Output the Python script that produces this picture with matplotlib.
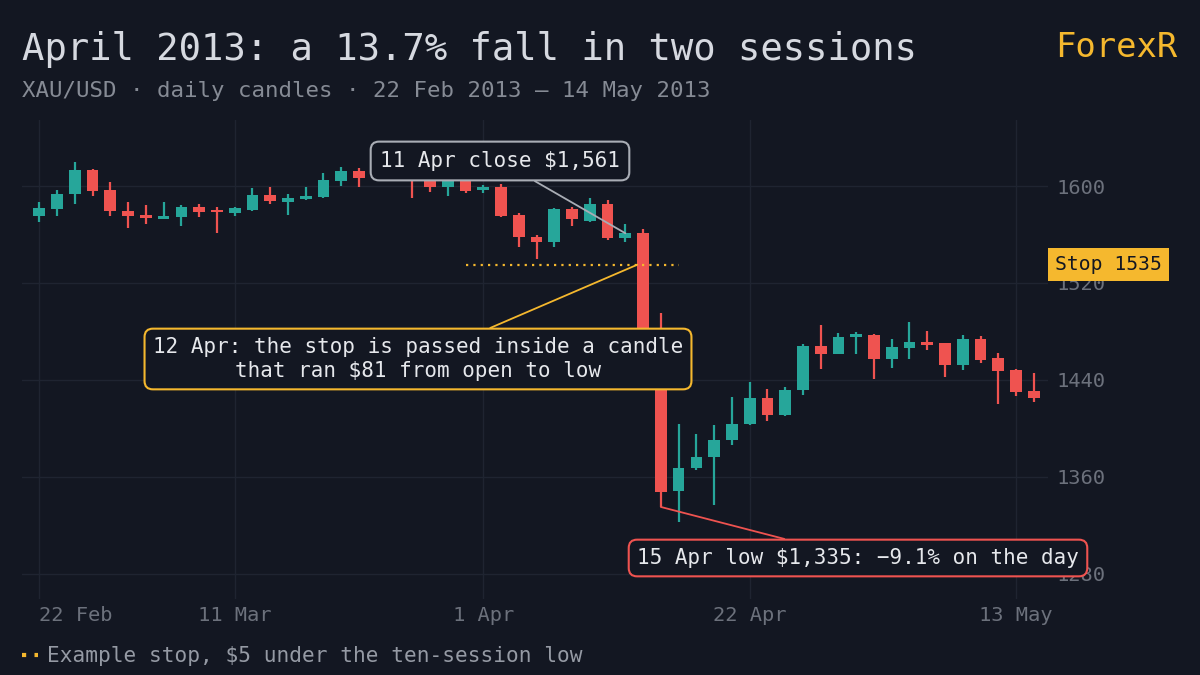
import matplotlib
matplotlib.use("Agg")
import matplotlib.pyplot as plt
from matplotlib.lines import Line2D
from matplotlib.transforms import blended_transform_factory

# ---------------- data ----------------
opens = [1575, 1581, 1593, 1613.5, 1596.5, 1579.5, 1576, 1573, 1574.5, 1583,
         1579.5, 1578, 1580.5, 1592.5, 1587, 1589.5, 1591, 1604.5, 1612, 1606.5,
         1612, 1611, 1606, 1599.4, 1604, 1596.7, 1599.4, 1576.1, 1557.9, 1553.8,
         1581, 1571.4, 1585.1, 1557.4, 1561, 1478, 1347.9, 1367.1, 1376.2, 1390.5,
         1403.7, 1425.1, 1410.6, 1431.7, 1467.5, 1461.1, 1475.7, 1477.3, 1457.3, 1466.6,
         1470.8, 1470, 1452.5, 1473.8, 1457.8, 1448.2, 1430.8]
highs = [1587, 1597, 1620, 1614, 1603, 1587, 1584, 1586.5, 1584.5, 1585,
         1583, 1582.5, 1598, 1599.5, 1593.5, 1599, 1611, 1615.5, 1614.5, 1616,
         1615, 1614, 1609, 1609, 1607, 1600.8, 1601.5, 1577.5, 1559.3, 1581.6,
         1582.9, 1590.1, 1588.2, 1568.4, 1564.5, 1495, 1403.7, 1395.2, 1402.4, 1425.9,
         1438.3, 1432.6, 1433.8, 1469.7, 1485.3, 1478.4, 1479.5, 1478.1, 1473.5, 1487.8,
         1480.1, 1470.5, 1476.8, 1476.3, 1461.9, 1448.5, 1446]
lows = [1570, 1575, 1585, 1592, 1575, 1565, 1569, 1572.5, 1567, 1574.5,
        1561, 1575.5, 1579.5, 1585.5, 1576, 1588.5, 1590.5, 1600, 1599.5, 1604.5,
        1605, 1590, 1594.8, 1591.7, 1593.9, 1594.5, 1574.1, 1549.9, 1540, 1549.4,
        1567.3, 1570.3, 1555.4, 1553.8, 1480, 1335, 1322.3, 1365.7, 1336.9, 1386.4,
        1403, 1405.8, 1410, 1427.7, 1448.8, 1461, 1461.1, 1440.5, 1449.6, 1457,
        1464.7, 1441.9, 1448.4, 1453.7, 1420.1, 1426.2, 1422]
closes = [1582, 1593, 1613.5, 1596, 1579, 1575.5, 1573.5, 1575, 1583, 1578.5,
          1578.5, 1581.5, 1592.5, 1587.5, 1590, 1592, 1605, 1612, 1606.5, 1612,
          1607, 1605, 1599.4, 1606, 1596.1, 1599.1, 1575.5, 1557.6, 1554.1, 1581,
          1573, 1585.1, 1556.8, 1561, 1482, 1347, 1367.1, 1376.2, 1390.5, 1403.7,
          1425.1, 1410.6, 1431.7, 1468, 1461.1, 1475.4, 1477.6, 1457.3, 1466.9, 1470.8,
          1469.1, 1452.5, 1473.8, 1456.4, 1447.6, 1430.3, 1425.3]

tick_idx = [0, 11, 25, 40, 55]
tick_labels = ["22 Feb", "11 Mar", "1 Apr", "22 Apr", "13 May"]
price_ticks = [1280, 1360, 1440, 1520, 1600]

stop_price = 1535
stop_from, stop_to = 24, 36
idx_11apr, idx_12apr, idx_15apr = 33, 34, 35

# ---------------- style ----------------
BG = "#131722"
GRID = "#1f2431"
UP = "#26a69a"
DOWN = "#ef5350"
GOLD = "#f5b82e"
FONT = "DejaVu Sans Mono"
plt.rcParams["font.family"] = [FONT, "DejaVu Sans"]

W, H = 1200, 675
fig = plt.figure(figsize=(12, 6.75), dpi=100, facecolor=BG)

def fx(px):
    return px / W

def fy(py):
    return 1 - py / H

ax = fig.add_axes([fx(22), fy(599), fx(1048 - 22), (599 - 120) / H])
ax.set_facecolor(BG)

n = len(opens)
xs = list(range(n))
body_w = 0.66
for i in xs:
    o, h, l, c = opens[i], highs[i], lows[i], closes[i]
    col = UP if c >= o else DOWN
    ax.vlines(i, l, h, color=col, lw=1.6, zorder=3)
    bottom = min(o, c)
    height = max(abs(c - o), 1.3)
    ax.bar(i, height, bottom=bottom, width=body_w, color=col, lw=0, zorder=3)

ax.set_xlim(-0.974, 56.8)
ax.set_ylim(1259, 1654.5)
ax.set_xticks(tick_idx)
ax.set_xticklabels(tick_labels)
ax.set_yticks(price_ticks)
ax.yaxis.tick_right()
ax.tick_params(axis="both", length=0, colors="#6c717c", labelsize=14.7)
ax.tick_params(axis="x", pad=5)
ax.tick_params(axis="y", pad=6)
ax.xaxis.get_majorticklabels()[0].set_horizontalalignment("left")
ax.grid(True, color=GRID, lw=1.0, zorder=0)
ax.set_axisbelow(True)
for s in ax.spines.values():
    s.set_visible(False)

# stop line
ax.plot([stop_from, stop_to], [stop_price, stop_price], color=GOLD, lw=1.6,
        ls=(0, (1, 2.3)), dash_capstyle="butt", zorder=4)

# stop label on the price axis
tr = blended_transform_factory(ax.transAxes, ax.transData)
ax.text(1.0 + 7 / 1026, stop_price, "Stop 1535", transform=tr, ha="left", va="center",
        fontsize=14.1, color="#131722", clip_on=False, zorder=20,
        bbox=dict(boxstyle="square,pad=0.35", fc=GOLD, ec="none"))

TXT = "#e6e8ec"
# annotation: 11 Apr close
ax.annotate(f"11 Apr close ${closes[idx_11apr]:,.0f}",
            xy=(idx_11apr, closes[idx_11apr]), xycoords="data",
            xytext=(500, H - 161), textcoords="figure pixels",
            ha="center", va="center", fontsize=15, color=TXT, zorder=15,
            bbox=dict(boxstyle="round,pad=0.45,rounding_size=0.4", fc=BG, ec="#a9adb5", lw=1.5),
            arrowprops=dict(arrowstyle="-", color="#a9adb5", lw=1.3, shrinkA=0, shrinkB=0))

# annotation: 12 Apr
ax.annotate("12 Apr: the stop is passed inside a candle\nthat ran $81 from open to low",
            xy=(idx_12apr - body_w / 2, stop_price), xycoords="data",
            xytext=(418, H - 359), textcoords="figure pixels",
            ha="center", va="center", fontsize=15, color=TXT, zorder=15,
            multialignment="center", linespacing=1.25,
            bbox=dict(boxstyle="round,pad=0.4,rounding_size=0.4", fc=BG, ec=GOLD, lw=1.5),
            arrowprops=dict(arrowstyle="-", color=GOLD, lw=1.3, shrinkA=0, shrinkB=0))

# annotation: 15 Apr low
ax.annotate("15 Apr low $1,335: \u22129.1% on the day",
            xy=(idx_15apr, lows[idx_15apr]), xycoords="data",
            xytext=(858, H - 558), textcoords="figure pixels",
            ha="center", va="center", fontsize=15, color=TXT, zorder=15,
            annotation_clip=False,
            bbox=dict(boxstyle="round,pad=0.4,rounding_size=0.4", fc=BG, ec=DOWN, lw=1.5),
            arrowprops=dict(arrowstyle="-", color=DOWN, lw=1.3, shrinkA=0, shrinkB=0))

# titles
fig.text(fx(22), fy(60), "April 2013: a 13.7% fall in two sessions", fontsize=26.8,
         color="#d6d9e0", ha="left", va="baseline")
fig.text(fx(22), fy(97), "XAU/USD \u00b7 daily candles \u00b7 22 Feb 2013 \u2013 14 May 2013",
         fontsize=16.1, color="#868b95", ha="left", va="baseline")
fig.text(fx(1177), fy(57), "ForexR", fontsize=24.4, color=GOLD, ha="right", va="baseline")

# legend
fig.add_artist(Line2D([fx(22), fx(38)], [fy(655), fy(655)], transform=fig.transFigure,
                      color=GOLD, lw=3, ls=(0, (1, 2)), dash_capstyle="butt"))
fig.text(fx(47), fy(656), "Example stop, $5 under the ten-session low", fontsize=15.2,
         color="#959aa4", ha="left", va="center")

fig.savefig("out.png", dpi=100, facecolor=BG)
